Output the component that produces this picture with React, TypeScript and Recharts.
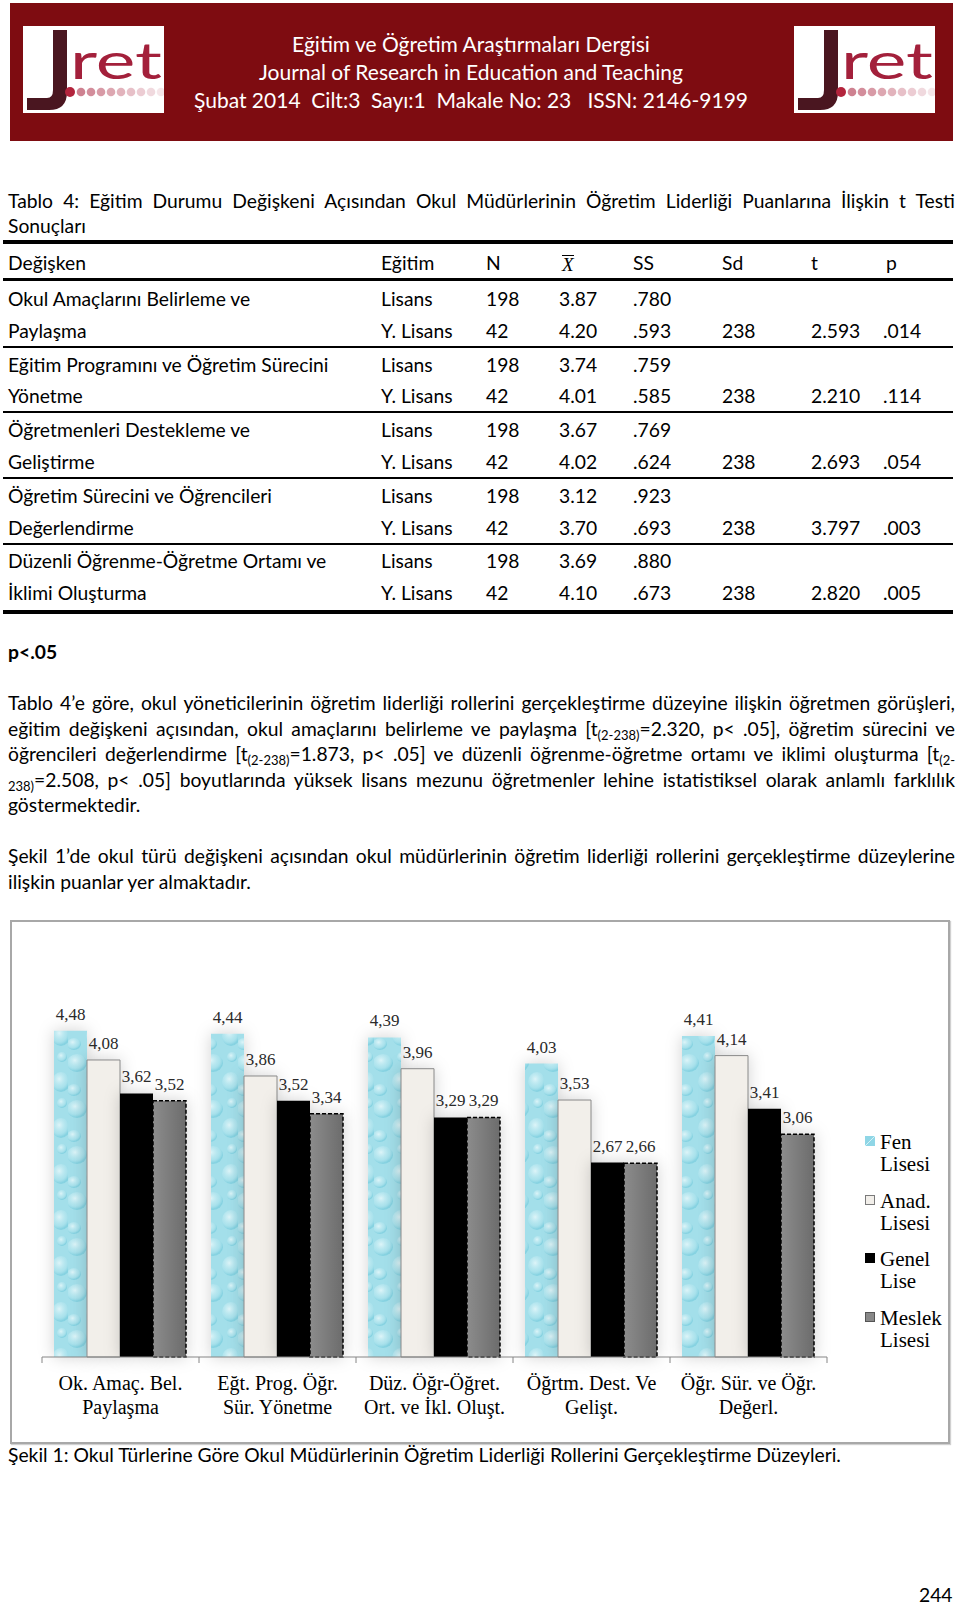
import React from "react";
import { BarChart, Bar, XAxis, YAxis, LabelList, Legend } from "recharts";

// chart data
const categories = [
  ["Ok. Amaç. Bel.", "Paylaşma"],
  ["Eğt. Prog. Öğr.", "Sür. Yönetme"],
  ["Düz. Öğr-Öğret.", "Ort. ve İkl. Oluşt."],
  ["Öğrtm. Dest. Ve", "Gelişt."],
  ["Öğr. Sür. ve Öğr.", "Değerl."],
];
const fenLisesi = [4.48, 4.44, 4.39, 4.03, 4.41];
const anadLisesi = [4.08, 3.86, 3.96, 3.53, 4.14];
const genelLise = [3.62, 3.52, 3.29, 2.67, 3.41];
const meslekLisesi = [3.52, 3.34, 3.29, 2.66, 3.06];
const seriesOrder = ["fen", "anad", "genel", "meslek"];

// table data
const dimensions = [
  ["Okul Amaçlarını Belirleme ve", "Paylaşma"],
  ["Eğitim Programını ve Öğretim Sürecini", "Yönetme"],
  ["Öğretmenleri Destekleme ve", "Geliştirme"],
  ["Öğretim Sürecini ve Öğrencileri", "Değerlendirme"],
  ["Düzenli Öğrenme-Öğretme Ortamı ve", "İklimi Oluşturma"],
];
const egitim = ["Lisans", "Y. Lisans"];
const nValues = ["198", "42"];
const means = [
  ["3.87", "4.20"],
  ["3.74", "4.01"],
  ["3.67", "4.02"],
  ["3.12", "3.70"],
  ["3.69", "4.10"],
];
const sdValues = [
  [".780", ".593"],
  [".759", ".585"],
  [".769", ".624"],
  [".923", ".693"],
  [".880", ".673"],
];
const dfValues = ["238", "238", "238", "238", "238"];
const tValues = ["2.593", "2.210", "2.693", "3.797", "2.820"];
const pValues = [".014", ".114", ".054", ".003", ".005"];

const data = categories.map((c, i) => ({
  name: c.join(" "),
  fen: fenLisesi[i],
  anad: anadLisesi[i],
  genel: genelLise[i],
  meslek: meslekLisesi[i],
}));

const SANS = "Lato, 'Open Sans', sans-serif";
const SERIF = "'Liberation Serif', 'Times New Roman', serif";
const PLOT_LEFT = 42;
const PLOT_RIGHT = 827;
const BAND = (PLOT_RIGHT - PLOT_LEFT) / categories.length;

const fmt = (v: any) => Number(v).toFixed(2).replace(".", ",");

function Txt({ x, y, children, style }: any) {
  return (
    <div
      style={{
        position: "absolute",
        left: x,
        top: y - 13,
        height: 26,
        lineHeight: "26px",
        whiteSpace: "nowrap",
        ...style,
      }}
    >
      {children}
    </div>
  );
}

function Rule({ y, h }: any) {
  return (
    <div
      style={{
        position: "absolute",
        left: 3,
        width: 950,
        top: y - h / 2,
        height: h,
        background: "#000",
      }}
    />
  );
}

function Logo({ x }: any) {
  const dots = [0, 1, 2, 3, 4, 5, 6, 7, 8];
  return (
    <svg
      style={{ position: "absolute", left: x, top: 26, background: "#fff" }}
      width={141}
      height={87}
      viewBox="0 0 141 87"
    >
      <path
        d="M30 4 L44 4 L44 66 Q44 84 26 84 L4 84 L4 72 L24 72 Q30 72 30 64 Z"
        fill="#4a1620"
      />
      <text
        x={47}
        y={53}
        fontFamily={SANS}
        fontSize={50}
        textLength={92}
        lengthAdjust="spacingAndGlyphs"
        fill="#a3203b"
      >
        ret
      </text>
      <circle cx={47} cy={66} r={5} fill="#b3243c" />
      {dots.map((d) => (
        <circle
          key={d}
          cx={58 + d * 10}
          cy={66}
          r={4.3}
          fill="#c97384"
          opacity={0.9 - d * 0.09}
        />
      ))}
    </svg>
  );
}

function CategoryTick(props: any) {
  const { x, y, index } = props;
  const lines = categories[index] || ["", ""];
  const half = BAND / 2;
  return (
    <g>
      <line x1={x - half} x2={x - half} y1={y} y2={y + 6} stroke="#868686" />
      {index === categories.length - 1 && (
        <line x1={x + half} x2={x + half} y1={y} y2={y + 6} stroke="#868686" />
      )}
      <text textAnchor="middle" fontFamily={SERIF} fontSize={20} fill="#000">
        <tspan x={x} y={y + 33}>
          {lines[0]}
        </tspan>
        <tspan x={x} y={y + 57}>
          {lines[1]}
        </tspan>
      </text>
    </g>
  );
}

const swatch: Record<string, any> = {
  fen: { background: "linear-gradient(135deg, #8fd6e6 45%, #d6f2f7 50%, #8fd6e6 55%)" },
  anad: { background: "#f2efea", border: "1px solid #7a7a7a" },
  genel: { background: "#000", border: "1px solid #000" },
  meslek: { background: "#888", border: "1px solid #555" },
};

function LegendBox(props: any) {
  const items = [...(props.payload || [])].sort(
    (a: any, b: any) => seriesOrder.indexOf(a.dataKey) - seriesOrder.indexOf(b.dataKey)
  );
  return (
    <div style={{ fontFamily: SERIF, fontSize: 21, color: "#000" }}>
      {items.map((e: any) => {
        const words = String(e.value).split(" ");
        return (
          <div
            key={e.dataKey}
            style={{ position: "relative", paddingLeft: 15, height: 58.5, lineHeight: "22px" }}
          >
            <div
              style={{
                position: "absolute",
                left: 0,
                top: 5,
                width: 10,
                height: 10,
                boxSizing: "border-box",
                ...swatch[e.dataKey],
              }}
            />
            <div>{words[0]}</div>
            <div>{words[1]}</div>
          </div>
        );
      })}
    </div>
  );
}

const labelProps = { fontFamily: SERIF, fontSize: 17, fill: "#2a2a2a" };

function Chart() {
  return (
    <div style={{ position: "absolute", left: 0, top: 960 }}>
      <style>{`.recharts-bar-rectangle path { filter: drop-shadow(0 0 8px rgba(0,0,0,0.18)); }`}</style>
      <BarChart
        width={960}
        height={470}
        data={data}
        margin={{ top: 33, right: 960 - PLOT_RIGHT, bottom: 13, left: PLOT_LEFT }}
        barCategoryGap={12}
        barGap={0}
      >
        <defs>
          <radialGradient id="drop" cx="40%" cy="35%" r="60%">
            <stop offset="0%" stopColor="#e4f7fa" stopOpacity={0.9} />
            <stop offset="70%" stopColor="#b4e6ef" stopOpacity={0.5} />
            <stop offset="100%" stopColor="#7fcfdf" stopOpacity={0.8} />
          </radialGradient>
          <pattern id="fenPattern" patternUnits="userSpaceOnUse" width={34} height={46}>
            <rect width={34} height={46} fill="#a3dfea" />
            <ellipse cx={9} cy={11} rx={10} ry={9} fill="url(#drop)" />
            <ellipse cx={27} cy={30} rx={9} ry={10} fill="url(#drop)" />
            <ellipse cx={6} cy={38} rx={7} ry={6} fill="url(#drop)" />
            <ellipse cx={28} cy={5} rx={5} ry={5} fill="url(#drop)" />
          </pattern>
          <linearGradient id="meslekGrad" x1="0" y1="0" x2="1" y2="0">
            <stop offset="0%" stopColor="#8c8c8c" />
            <stop offset="100%" stopColor="#6c6c6c" />
          </linearGradient>
        </defs>
        <XAxis
          dataKey="name"
          height={60}
          axisLine={{ stroke: "#868686" }}
          tickLine={false}
          tickSize={0}
          tickMargin={0}
          interval={0}
          tick={<CategoryTick />}
        />
        <YAxis hide domain={[0, 5]} />
        <Legend
          layout="horizontal"
          verticalAlign="middle"
          align="center"
          content={<LegendBox />}
          wrapperStyle={{ left: 865, top: 171, width: 90 }}
        />
        <Bar dataKey="fen" name="Fen Lisesi" fill="url(#fenPattern)" isAnimationActive={false}>
          <LabelList dataKey="fen" position="top" offset={11} formatter={fmt} {...labelProps} />
        </Bar>
        <Bar
          dataKey="anad"
          name="Anad. Lisesi"
          fill="#f2efea"
          stroke="#8a8a8a"
          strokeWidth={1}
          isAnimationActive={false}
        >
          <LabelList dataKey="anad" position="top" offset={11} formatter={fmt} {...labelProps} />
        </Bar>
        <Bar dataKey="genel" name="Genel Lise" fill="#000" isAnimationActive={false}>
          <LabelList dataKey="genel" position="top" offset={11} formatter={fmt} {...labelProps} />
        </Bar>
        <Bar
          dataKey="meslek"
          name="Meslek Lisesi"
          fill="url(#meslekGrad)"
          stroke="#000"
          strokeWidth={1.5}
          strokeDasharray="4 2"
          isAnimationActive={false}
        >
          <LabelList dataKey="meslek" position="top" offset={11} formatter={fmt} {...labelProps} />
        </Bar>
      </BarChart>
    </div>
  );
}

const Sub = ({ children }: any) => (
  <span style={{ fontSize: 13, verticalAlign: "-4px" }}>{children}</span>
);

const justify: any = { textAlign: "justify", textAlignLast: "justify", width: 947 };

export default function App() {
  const colX = { egitim: 381, n: 486, mean: 559, sd: 633, df: 722, t: 811, p: 883 };
  return (
    <div
      style={{
        position: "absolute",
        left: 0,
        top: 0,
        width: 960,
        height: 1606,
        background: "#fff",
        fontFamily: SANS,
        fontSize: 19.3,
        color: "#000",
        overflow: "hidden",
      }}
    >
      {/* header */}
      <div
        style={{
          position: "absolute",
          left: 10,
          top: 3,
          width: 943,
          height: 138,
          background: "#7e0c11",
        }}
      />
      <Logo x={23} />
      <Logo x={794} />
      {[
        "Eğitim ve Öğretim Araştırmaları Dergisi",
        "Journal of Research in Education and Teaching",
        "Şubat 2014  Cilt:3  Sayı:1  Makale No: 23   ISSN: 2146-9199",
      ].map((s, i) => (
        <Txt
          key={i}
          x={171}
          y={44 + i * 28.2}
          style={{ width: 600, textAlign: "center", color: "#fff", fontSize: 21, whiteSpace: "pre" }}
        >
          {s}
        </Txt>
      ))}

      {/* table caption */}
      <Txt x={8} y={201} style={justify}>
        Tablo 4: Eğitim Durumu Değişkeni Açısından Okul Müdürlerinin Öğretim Liderliği Puanlarına İlişkin t Testi
      </Txt>
      <Txt x={8} y={226}>
        Sonuçları
      </Txt>
      <Rule y={242} h={4} />
      <Txt x={8} y={263}>Değişken</Txt>
      <Txt x={colX.egitim} y={263}>Eğitim</Txt>
      <Txt x={colX.n} y={263}>N</Txt>
      <Txt x={colX.mean + 3} y={265} style={{ fontFamily: SERIF, fontStyle: "italic", fontSize: 19 }}>
        <span style={{ borderTop: "1px solid #000", lineHeight: "18px", display: "inline-block" }}>X</span>
      </Txt>
      <Txt x={colX.sd} y={263}>SS</Txt>
      <Txt x={colX.df} y={263}>Sd</Txt>
      <Txt x={colX.t} y={263}>t</Txt>
      <Txt x={colX.p + 3} y={263}>p</Txt>
      <Rule y={279} h={3} />

      {dimensions.map((dim, g) => {
        const y1 = 299 + g * 65.6;
        const y2 = y1 + 31.8;
        const last = g === dimensions.length - 1;
        return (
          <React.Fragment key={g}>
            <Txt x={8} y={y1}>{dim[0]}</Txt>
            <Txt x={8} y={y2}>{dim[1]}</Txt>
            {[y1, y2].map((yy, r) => (
              <React.Fragment key={r}>
                <Txt x={colX.egitim} y={yy}>{egitim[r]}</Txt>
                <Txt x={colX.n} y={yy}>{nValues[r]}</Txt>
                <Txt x={colX.mean} y={yy}>{means[g][r]}</Txt>
                <Txt x={colX.sd} y={yy}>{sdValues[g][r]}</Txt>
              </React.Fragment>
            ))}
            <Txt x={colX.df} y={y2}>{dfValues[g]}</Txt>
            <Txt x={colX.t} y={y2}>{tValues[g]}</Txt>
            <Txt x={colX.p} y={y2}>{pValues[g]}</Txt>
            <Rule y={last ? y2 + 18.6 : y1 + 47.8} h={last ? 4 : 2} />
          </React.Fragment>
        );
      })}

      <Txt x={8} y={652} style={{ fontWeight: 700 }}>p&lt;.05</Txt>

      {/* paragraph */}
      <Txt x={8} y={703} style={justify}>
        Tablo 4’e göre, okul yöneticilerinin öğretim liderliği rollerini gerçekleştirme düzeyine ilişkin öğretmen görüşleri,
      </Txt>
      <Txt x={8} y={728.5} style={justify}>
        eğitim değişkeni açısından, okul amaçlarını belirleme ve paylaşma [t<Sub>(2-238)</Sub>=2.320, p&lt; .05], öğretim sürecini ve
      </Txt>
      <Txt x={8} y={754} style={justify}>
        öğrencileri değerlendirme [t<Sub>(2-238)</Sub>=1.873, p&lt; .05] ve düzenli öğrenme-öğretme ortamı ve iklimi oluşturma [t<Sub>(2-</Sub>
      </Txt>
      <Txt x={8} y={779.5} style={justify}>
        <Sub>238)</Sub>=2.508, p&lt; .05] boyutlarında yüksek lisans mezunu öğretmenler lehine istatistiksel olarak anlamlı farklılık
      </Txt>
      <Txt x={8} y={805}>göstermektedir.</Txt>

      <Txt x={8} y={856} style={justify}>
        Şekil 1’de okul türü değişkeni açısından okul müdürlerinin öğretim liderliği rollerini gerçekleştirme düzeylerine
      </Txt>
      <Txt x={8} y={882}>ilişkin puanlar yer almaktadır.</Txt>

      {/* chart frame */}
      <div
        style={{
          position: "absolute",
          left: 10,
          top: 920,
          width: 936,
          height: 520,
          border: "2px solid #a8a8a8",
          boxShadow: "1px 1px 1px #d0d0d0",
        }}
      />
      <Chart />

      <Txt x={8} y={1455}>
        Şekil 1: Okul Türlerine Göre Okul Müdürlerinin Öğretim Liderliği Rollerini Gerçekleştirme Düzeyleri.
      </Txt>
      <Txt x={919} y={1595}>244</Txt>
    </div>
  );
}
